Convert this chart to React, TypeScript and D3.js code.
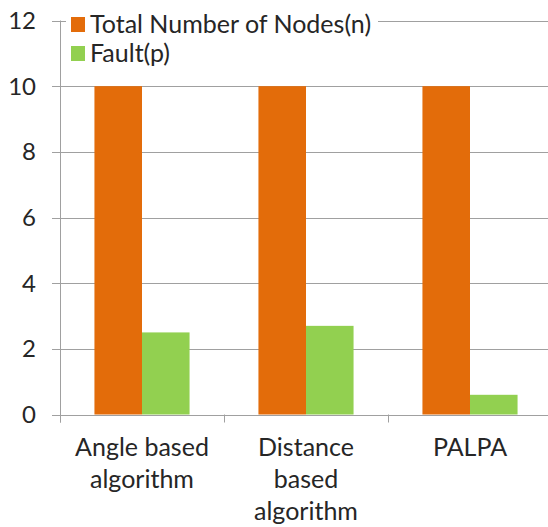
import React from "react";
import * as d3 from "d3";

const categories = ["Angle based algorithm", "Distance based algorithm", "PALPA"];
const categoryLines = [["Angle based", "algorithm"], ["Distance", "based", "algorithm"], ["PALPA"]];
const seriesNames = ["Total Number of Nodes(n)", "Fault(p)"];
const totalNodes = [10, 10, 10];
const fault = [2.5, 2.7, 0.6];
const yTicks = [0, 2, 4, 6, 8, 10, 12];
const colors = ["#E36C0A", "#92D050"];

const W = 548;
const H = 527;
const FONT = "Lato, 'Open Sans', sans-serif";
const TEXT = "#262626";
const GRID = "#a0a0a0";

export default function App() {
  const x0 = 60;
  const x1 = 552;
  const y = d3.scaleLinear().domain([0, 12]).range([414.5, 20.5]);
  const xb = d3.scaleBand<string>().domain(categories).range([x0, x1]).padding(0);
  const bw = xb.bandwidth();
  const xs = d3
    .scaleBand<string>()
    .domain(seriesNames)
    .range([bw * 0.21, bw * 0.79])
    .padding(0);
  const values = [totalNodes, fault];

  return (
    <svg
      width={W}
      height={H}
      style={{ position: "fixed", left: 0, top: 0, background: "#fff" }}
      fontFamily={FONT}
    >
      <rect x={0} y={0} width={W} height={H} fill="#fff" />
      {yTicks.map((t) => (
        <g key={t}>
          <line x1={52} x2={W} y1={Math.round(y(t)) + 0.5} y2={Math.round(y(t)) + 0.5} stroke={GRID} strokeWidth={1} />
          <text x={36} y={y(t)} dy="0.36em" textAnchor="end" fontSize={24} fill={TEXT}>
            {t}
          </text>
        </g>
      ))}
      {categories.map((c, i) =>
        values.map((vals, s) => (
          <rect
            key={c + s}
            x={(xb(c) ?? 0) + (xs(seriesNames[s]) ?? 0)}
            y={y(vals[i])}
            width={xs.bandwidth()}
            height={y(0) - y(vals[i])}
            fill={colors[s]}
          />
        ))
      )}
      <line x1={x0 + 0.5} x2={x0 + 0.5} y1={y(12)} y2={y(0) + 8} stroke={GRID} strokeWidth={1} />
      {categories.map((c) => (
        <line
          key={"t" + c}
          x1={Math.round(xb(c) ?? 0) + 0.5}
          x2={Math.round(xb(c) ?? 0) + 0.5}
          y1={y(0)}
          y2={y(0) + 8}
          stroke={GRID}
        />
      ))}
      {categories.map((c, i) => (
        <text key={"l" + c} textAnchor="middle" fontSize={25} fill={TEXT}>
          {categoryLines[i].map((ln, k) => (
            <tspan key={k} x={(xb(c) ?? 0) + bw / 2} y={456 + k * 32}>
              {ln}
            </tspan>
          ))}
        </text>
      ))}
      <g>
        <rect x={66} y={8} width={312} height={62} fill="#fff" />
        {seriesNames.map((n, s) => (
          <g key={n}>
            <rect x={71} y={17 + s * 29} width={14} height={15} fill={colors[s]} />
            <text x={90} y={32.5 + s * 29} fontSize={25} fill={TEXT}>
              {n}
            </text>
          </g>
        ))}
      </g>
    </svg>
  );
}
